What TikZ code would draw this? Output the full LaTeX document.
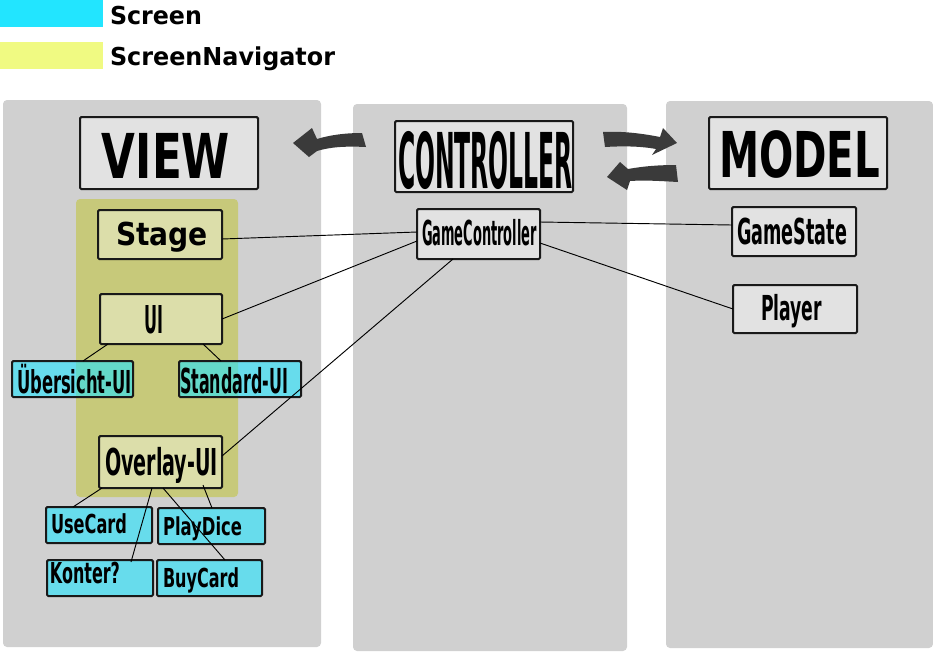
\documentclass[tikz,border=0pt]{standalone}
\usepackage{fontspec}
\setmainfont{DejaVu Sans}
\usepackage{graphicx}
\usetikzlibrary{calc}
\definecolor{panelc}{HTML}{D0D0D0}
\definecolor{boxg}{HTML}{E2E2E2}
\definecolor{navc}{HTML}{C7C97A}
\definecolor{legcyan}{HTML}{22E5FF}
\definecolor{legyel}{HTML}{F0FA82}
\definecolor{stagefill}{HTML}{DCDEAA}
\definecolor{arrowc}{HTML}{3A3A3A}
\newlength\px \setlength\px{0.75pt}
\newcommand\lb[3]{\resizebox{#2\px}{\height}{\fontsize{#1pt}{#1pt}\selectfont\bfseries #3}}
\newcommand\mybox[6]{\node[#1, minimum width={(#5-#3)*0.75pt}, minimum height={(#6-#4)*0.75pt}] (#2) at ({(#3+#5)/2},{(#4+#6)/2}) {};}
\begin{document}
\begin{tikzpicture}[x=0.75pt,y=-0.75pt,
  gbox/.style={draw=black!90, line width=1.5pt, fill=boxg, rounded corners=1pt, inner sep=0pt, outer sep=0pt},
  nbox/.style={gbox, fill=stagefill},
  sbox/.style={gbox, fill=legcyan, fill opacity=0.6, draw opacity=1},
  conn/.style={draw=black, line width=0.7pt},
  lbl/.style={anchor=base west, inner sep=0pt, outer sep=0pt, text=black},
  bigarrow/.style={fill=arrowc},
  panel/.style={fill=panelc, rounded corners=3pt}]
\useasboundingbox (0,0) rectangle (933,651);
% panels
\fill[panel] (3,100) rectangle (321,647);
\fill[panel] (353,104) rectangle (627,651);
\fill[panel] (666,101) rectangle (933,648);
% screen navigator area
\fill[navc, rounded corners=3pt] (76,199) rectangle (238,497);
% legend
\fill[legcyan] (0,0) rectangle (103,27);
\fill[legyel] (0,42) rectangle (103,69);
\node[lbl] (legscreen) at (110,24) {\lb{18.5}{92}{Screen}};
\node[lbl] (legnav) at (110,65) {\lb{18.5}{225}{ScreenNavigator}};
% big arrows
\fill[bigarrow] (362,133) .. controls (345,133) and (330,135) .. (317,139) -- (312,128) -- (293,143) -- (309,157) -- (317,151) .. controls (330,147) and (345,146) .. (366,147) -- cycle;
\fill[bigarrow] (603,132) .. controls (620,131) and (640,133) .. (660,137) -- (663,128) -- (677,143) -- (652,155) -- (656,149) .. controls (640,146) and (622,146) .. (605,147) -- cycle;
\fill[bigarrow] (676,165) .. controls (660,165) and (645,166) .. (628,169) -- (620,162) -- (607,177) -- (627,190) -- (630,181) .. controls (645,180) and (660,181) .. (678,182) -- cycle;
% header boxes
\mybox{gbox}{view}{80}{117}{258}{189}
\mybox{gbox}{controller}{395}{121}{573}{192}
\mybox{gbox}{model}{709}{117}{887}{189}
% view boxes
\mybox{nbox}{stage}{98}{210}{222}{259}
\mybox{nbox}{ui}{100}{294}{222}{344}
\mybox{sbox}{uebersicht}{12}{361}{133}{397}
\mybox{sbox}{standard}{179}{361}{301}{397}
\mybox{nbox}{overlay}{99}{436}{222}{488}
\mybox{sbox}{usecard}{46}{507}{152}{543}
\mybox{sbox}{playdice}{158}{508}{265}{544}
\mybox{sbox}{konter}{47}{560}{153}{596}
\mybox{sbox}{buycard}{157}{560}{262}{596}
% controller / model boxes
\mybox{gbox}{gc}{417}{209}{540}{259}
\mybox{gbox}{gamestate}{732}{207}{856}{256}
\mybox{gbox}{player}{733}{285}{857}{333}
% connectors
\draw[conn] ($(stage.east)+(0,4.5)$) -- ($(gc.west)+(0,-2)$);
\draw[conn] (ui.east) -- ($(gc.west)+(0,7)$);
\draw[conn] ($(overlay.east)+(0,-6)$) -- ($(gc.south)+(-25.5,0)$);
\draw[conn] ($(gc.east)+(0,-12)$) -- ($(gamestate.west)+(0,-6.5)$);
\draw[conn] ($(gc.east)+(0,9)$) -- (player.west);
\draw[conn] ($(ui.south)+(-53,0)$) -- ($(uebersicht.north)+(10.5,0)$);
\draw[conn] ($(ui.south)+(42,0)$) -- ($(standard.north)+(-19,0)$);
\draw[conn] ($(overlay.south)+(-58.5,0)$) -- ($(usecard.north)+(-26,0)$);
\draw[conn] ($(overlay.south)+(-8.5,0)$) -- ($(konter.north)+(31,2)$);
\draw[conn] ($(overlay.south)+(2.5,0)$) -- ($(buycard.north)+(15.5,0)$);
\draw[conn] ($(overlay.south)+(42.5,-3)$) -- ($(playdice.north)+(0.5,0)$);
% labels
\node[lbl] (view-l) at (102,178) {\lb{46.4}{128}{VIEW}};
\node[lbl] (controller-l) at (398,188) {\lb{57.7}{175}{CONTROLLER}};
\node[lbl] (model-l) at (719,177) {\lb{47.4}{161}{MODEL}};
\node[lbl] (stage-l) at (116,245) {\lb{23.7}{92}{Stage}};
\node[lbl] (ui-l) at (144,333) {\lb{28.8}{19}{UI}};
\node[lbl] (uebersicht-l) at (17,393) {\lb{23.7}{115}{Übersicht-UI}};
\node[lbl] (standard-l) at (180,393) {\lb{25.8}{108}{Standard-UI}};
\node[lbl] (overlay-l) at (105,475) {\lb{27.8}{113}{Overlay-UI}};
\node[lbl] (usecard-l) at (51,533) {\lb{19.6}{76}{UseCard}};
\node[lbl] (playdice-l) at (163,535) {\lb{18.5}{79}{PlayDice}};
\node[lbl] (konter-l) at (50,583) {\lb{21.6}{70}{Konter?}};
\node[lbl] (buycard-l) at (163,587) {\lb{19.6}{76}{BuyCard}};
\node[lbl] (gc-l) at (422,245) {\lb{25.8}{115}{GameController}};
\node[lbl] (gamestate-l) at (737,244) {\lb{26.8}{110}{GameState}};
\node[lbl] (player-l) at (761,320) {\lb{25.8}{61}{Player}};
\end{tikzpicture}
\end{document}
